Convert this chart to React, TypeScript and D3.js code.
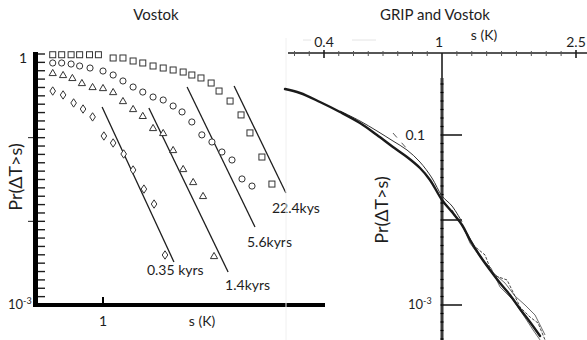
import React from 'react';
import * as d3 from 'd3';

const W = 587;
const H = 340;
const FONT = 'Lato, "Open Sans", sans-serif';
const INK = '#1e1e1e';

// ---- Vostok panel: exceedance probability at four resolutions ----
const squareS = [0.57, 0.63, 0.7, 0.77, 0.86, 0.95, 1.12, 1.25, 1.4, 1.56, 1.75, 1.96, 2.19, 2.45, 2.7, 2.99, 3.35, 3.66, 4.14, 4.68, 5.17, 5.91, 6.61];
const squareP = [0.98, 0.98, 0.98, 0.98, 0.98, 0.98, 0.896, 0.896, 0.825, 0.781, 0.719, 0.68, 0.644, 0.609, 0.561, 0.517, 0.45, 0.361, 0.274, 0.187, 0.114, 0.0587, 0.0279];

const circleS = [0.57, 0.63, 0.7, 0.77, 0.865, 1.0, 1.12, 1.25, 1.4, 1.56, 1.75, 1.96, 2.19, 2.42, 2.7, 3.02, 3.38, 3.78, 4.23, 4.73, 5.29];
const circleP = [0.781, 0.781, 0.759, 0.719, 0.68, 0.626, 0.561, 0.476, 0.403, 0.351, 0.306, 0.282, 0.239, 0.203, 0.154, 0.108, 0.0888, 0.0674, 0.0541, 0.0321, 0.0264];

const triangleS = [0.57, 0.64, 0.71, 0.79, 0.89, 1.0, 1.12, 1.25, 1.4, 1.56, 1.75, 1.96, 2.19, 2.45, 2.74, 3.06, 3.46];
const triangleP = [0.593, 0.561, 0.517, 0.45, 0.403, 0.392, 0.351, 0.274, 0.22, 0.182, 0.1305, 0.1137, 0.0712, 0.0422, 0.0295, 0.0201, 0.00385];

const diamondS = [0.57, 0.64, 0.72, 0.8, 0.89, 1.01, 1.12, 1.26, 1.4, 1.58, 1.77, 2.0];
const diamondP = [0.361, 0.324, 0.26, 0.22, 0.177, 0.1047, 0.0864, 0.0638, 0.0411, 0.0243, 0.0161, 0.00396];

// power-law fits: [s start, P start, s end, P end]
const fitLabels = ['0.35 kyrs', '1.4kyrs', '5.6kyrs', '22.4kys'];
const fitLines = [
  [0.99, 0.233, 2.21, 0.00327],
  [1.67, 0.226, 4.05, 0.00248],
  [2.56, 0.403, 5.47, 0.00856],
  [4.33, 0.415, 7.73, 0.0218],
];
const leftXTicks = [1];

// ---- GRIP and Vostok panel ----
const mainS = [0.2955, 0.332, 0.3878, 0.4529, 0.5289, 0.6036, 0.6834, 0.7621, 0.8428, 0.911, 1.0, 1.071, 1.147, 1.211, 1.297, 1.389, 1.487, 1.592, 1.705, 1.825, 1.955];
const mainP = [0.3477, 0.312, 0.2444, 0.1865, 0.1384, 0.1, 0.0722, 0.0551, 0.0409, 0.0296, 0.0172, 0.0124, 0.00873, 0.00582, 0.00377, 0.00258, 0.00181, 0.00131, 0.000897, 0.000631, 0.000432];

const upperS = [0.4529, 0.5289, 0.6036, 0.6834, 0.7621, 0.8428, 0.925, 1.0, 1.071, 1.147];
const upperP = [0.1916, 0.1462, 0.1115, 0.085, 0.0666, 0.0481, 0.0312, 0.0192, 0.0146, 0.00947];

const wiggleAS = [1.071, 1.147, 1.186, 1.236, 1.342, 1.389, 1.418, 1.56, 1.625, 1.705, 1.825, 1.928, 2.023];
const wiggleAP = [0.0131, 0.0085, 0.00703, 0.00508, 0.00388, 0.00272, 0.00225, 0.00197, 0.00142, 0.000947, 0.000722, 0.000614, 0.000388];

const wiggleBS = [1.147, 1.211, 1.297, 1.398, 1.487, 1.625, 1.728, 1.864, 1.955];
const wiggleBP = [0.00897, 0.00536, 0.00367, 0.00272, 0.00163, 0.001145, 0.000805, 0.000508, 0.000388];

const wiggleCS = [1.0, 1.093, 1.17, 1.279, 1.389, 1.539, 1.647, 1.764, 1.889, 2.023];
const wiggleCP = [0.0172, 0.01145, 0.00763, 0.0042, 0.00258, 0.00181, 0.001276, 0.001, 0.000763, 0.000444];

const dashFitS = [0.6834, 0.7679];
const dashFitP = [0.1055, 0.0666];

const rightXTicks = [0.4, 1, 2.5];
const rightXTickLabels = ['0.4', '1', '2.5'];
const rightYTicks = [0.1, 0.01, 0.001];

const zip = (s: number[], p: number[]) => s.map((v, i) => [v, p[i]] as [number, number]);

function TenPow({ x, y, anchor }: { x: number; y: number; anchor?: string }) {
  return (
    <text x={x} y={y} fontSize={13} fill={INK} fontFamily={FONT} textAnchor={anchor || 'start'}>
      10<tspan fontSize={9} dy={-5}>-3</tspan>
    </text>
  );
}

export default function App() {
  // left panel scales
  const lx = d3.scaleLog().domain([0.5, 8]).range([41, 289]);
  const ly = d3.scaleLog().domain([1e-3, 1]).range([305, 54]);

  // right panel scales
  const rx = d3.scaleLog().domain([0.4, 1, 2.5]).range([324, 442, 576]);
  const ry = d3.scaleLog().domain([1e-3, 0.1]).range([305, 135]);

  const lineL = d3.line<[number, number]>().x((d) => lx(d[0])).y((d) => ly(d[1]));
  const lineR = d3.line<[number, number]>().x((d) => rx(d[0])).y((d) => ry(d[1]));
  const lineRs = d3.line<[number, number]>().x((d) => rx(d[0])).y((d) => ry(d[1])).curve(d3.curveCatmullRom);

  const leftMinor = d3.range(0, 31).map((k) => Math.pow(10, -k / 10));
  const rightMinorY = d3.range(-8, 40).map((k) => Math.pow(10, -1 - k / 10));
  const topMinor = [
    ...d3.range(-2, 8).filter((k) => k !== 0).map((k) => 0.4 * Math.pow(2.5, k / 8)),
    ...d3.range(1, 9).map((k) => Math.pow(2.5, k / 9)),
  ];

  const sq = 6;
  const tri = (cx: number, cy: number) => `M${cx},${cy - 3.6}L${cx + 3.6},${cy + 2.6}L${cx - 3.6},${cy + 2.6}Z`;
  const dia = (cx: number, cy: number) => `M${cx},${cy - 4.2}L${cx + 2.8},${cy}L${cx},${cy + 4.2}L${cx - 2.8},${cy}Z`;

  const labelOffsets = [
    [-27, 13],
    [-3, 18],
    [-8, 20],
    [-14, 20],
  ];

  return (
    <svg
      width={W}
      height={H}
      viewBox={`0 0 ${W} ${H}`}
      style={{ position: 'absolute', left: 0, top: 0, display: 'block', background: '#fff' }}
    >
      <rect x={0} y={0} width={W} height={H} fill="#fff" />

      {/* ---------- left panel: Vostok ---------- */}
      <text x={156} y={20} textAnchor="middle" fontSize={15} fill={INK} fontFamily={FONT}>Vostok</text>

      {/* minor ticks on the probability axis */}
      {leftMinor.map((v, i) => (
        <line key={'lm' + i} x1={37} x2={45} y1={ly(v)} y2={ly(v)} stroke={INK} strokeWidth={1.4} />
      ))}
      {[0.1, 0.01].map((v) => (
        <line key={'lM' + v} x1={28} x2={37} y1={ly(v)} y2={ly(v)} stroke={INK} strokeWidth={1} />
      ))}
      <line x1={35.5} x2={35.5} y1={ly(1) - 2} y2={ly(1e-3) + 2} stroke="#000" strokeWidth={5} />
      <line x1={33} x2={325} y1={305} y2={305} stroke="#000" strokeWidth={4} />
      {leftXTicks.map((v) => (
        <g key={'lx' + v}>
          <line x1={lx(v)} x2={lx(v)} y1={297} y2={304} stroke="#000" strokeWidth={2} />
          <text x={lx(v)} y={326} textAnchor="middle" fontSize={14} fill={INK} fontFamily={FONT}>{v}</text>
        </g>
      ))}
      <text x={27} y={63} textAnchor="end" fontSize={14} fill={INK} fontFamily={FONT}>1</text>
      <TenPow x={8} y={309} />
      <text x={202} y={326} textAnchor="middle" fontSize={14} fill={INK} fontFamily={FONT}>s (K)</text>
      <text transform="translate(22,177) rotate(-90)" textAnchor="middle" fontSize={18} fill={INK} fontFamily={FONT}>Pr(ΔT&gt;s)</text>

      {/* fitted power laws */}
      {fitLines.map((f, i) => {
        const pts: [number, number][] = [[f[0], f[1]], [f[2], f[3]]];
        const ex = lx(f[2]);
        const ey = ly(f[3]);
        return (
          <g key={'fit' + i}>
            <path d={lineL(pts) || ''} fill="none" stroke={INK} strokeWidth={1.3} />
            <text x={ex + labelOffsets[i][0]} y={ey + labelOffsets[i][1]} fontSize={14} fill={INK} fontFamily={FONT}>{fitLabels[i]}</text>
          </g>
        );
      })}

      {/* data markers */}
      {zip(squareS, squareP).map((d, i) => (
        <rect key={'sq' + i} x={lx(d[0]) - sq / 2} y={ly(d[1]) - sq / 2} width={sq} height={sq} fill="#fff" stroke="#333" strokeWidth={1} />
      ))}
      {zip(circleS, circleP).map((d, i) => (
        <circle key={'ci' + i} cx={lx(d[0])} cy={ly(d[1])} r={3.1} fill="#fff" stroke="#333" strokeWidth={1} />
      ))}
      {zip(triangleS, triangleP).map((d, i) => (
        <path key={'tr' + i} d={tri(lx(d[0]), ly(d[1]))} fill="#fff" stroke="#333" strokeWidth={1} />
      ))}
      {zip(diamondS, diamondP).map((d, i) => (
        <path key={'di' + i} d={dia(lx(d[0]), ly(d[1]))} fill="#fff" stroke="#333" strokeWidth={1} />
      ))}

      {/* faint panel separator */}
      <line x1={286} x2={286} y1={38} y2={H} stroke="#f0f0f0" strokeWidth={1} />
      <line x1={303} x2={311} y1={40} y2={40} stroke="#e4e4e4" strokeWidth={1} />
      <line x1={352} x2={376} y1={40} y2={40} stroke="#e4e4e4" strokeWidth={1} />

      {/* ---------- right panel: GRIP and Vostok ---------- */}
      <text x={435} y={20} textAnchor="middle" fontSize={15} fill={INK} fontFamily={FONT}>GRIP and Vostok</text>
      <text x={484} y={40} textAnchor="middle" fontSize={14} fill={INK} fontFamily={FONT}>s (K)</text>

      <line x1={288} x2={W} y1={53} y2={53} stroke={INK} strokeWidth={1.6} />
      {topMinor.map((v, i) => (
        <line key={'tm' + i} x1={rx(v)} x2={rx(v)} y1={51} y2={56} stroke="#555" strokeWidth={1} />
      ))}
      {rightXTicks.map((v, i) => (
        <g key={'rx' + v}>
          {v !== 1 && <line x1={rx(v)} x2={rx(v)} y1={50} y2={58} stroke={INK} strokeWidth={1.6} />}
          <text x={rx(v) + (v === 1 ? -3 : 0)} y={47} textAnchor="middle" fontSize={14} fill={INK} fontFamily={FONT}>{rightXTickLabels[i]}</text>
        </g>
      ))}

      {/* vertical probability axis crossing at s = 1 */}
      <line x1={rx(1)} x2={rx(1)} y1={53} y2={78} stroke={INK} strokeWidth={1.6} />
      <line x1={rx(1)} x2={rx(1)} y1={78} y2={H} stroke="#3a3a3a" strokeWidth={3} />
      {rightMinorY.filter((v) => ry(v) > 80).map((v, i) => (
        <line key={'rm' + i} x1={rx(1) - 1.5} x2={rx(1) + 1.5} y1={ry(v)} y2={ry(v)} stroke="#000" strokeWidth={1.2} />
      ))}
      {rightYTicks.map((v) => (
        <line key={'ry' + v} x1={rx(1)} x2={rx(1) + 20} y1={ry(v)} y2={ry(v)} stroke={INK} strokeWidth={1.6} />
      ))}
      <text x={425} y={140} textAnchor="end" fontSize={14} fill={INK} fontFamily={FONT}>0.1</text>
      <TenPow x={408} y={309} />
      <text transform="translate(388,210) rotate(-90)" textAnchor="middle" fontSize={18} fill={INK} fontFamily={FONT}>Pr(ΔT&gt;s)</text>

      {/* distribution curves */}
      <path d={lineR(zip(dashFitS, dashFitP)) || ''} fill="none" stroke="#444" strokeWidth={0.9} strokeDasharray="6,7" />
      <path d={lineRs(zip(upperS, upperP)) || ''} fill="none" stroke="#333" strokeWidth={1} />
      <path d={lineR(zip(wiggleAS, wiggleAP)) || ''} fill="none" stroke="#333" strokeWidth={0.9} strokeDasharray="3,1.5" />
      <path d={lineR(zip(wiggleBS, wiggleBP)) || ''} fill="none" stroke="#444" strokeWidth={0.8} />
      <path d={lineR(zip(wiggleCS, wiggleCP)) || ''} fill="none" stroke="#444" strokeWidth={0.8} />
      <path d={lineRs(zip(mainS, mainP)) || ''} fill="none" stroke="#1a1a1a" strokeWidth={2.4} strokeLinecap="round" />
    </svg>
  );
}
